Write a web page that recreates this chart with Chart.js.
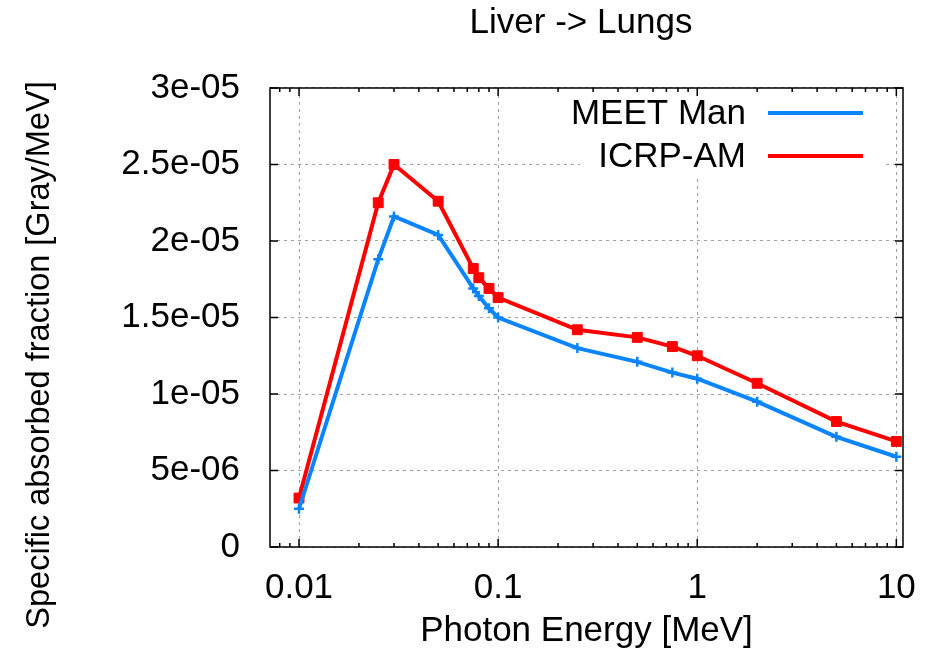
<!DOCTYPE html>
<html>
<head>
<meta charset="utf-8">
<script src="https://cdn.jsdelivr.net/npm/chart.js@4.4.0/dist/chart.umd.min.js"></script>
<style>
  html, body { margin: 0; padding: 0; background: #fff; }
  #wrap { width: 926px; height: 669px; }
</style>
</head>
<body>
<div id="wrap"><canvas id="safChart"></canvas></div>
<script>
// Photon energies [MeV] and SAF values [Gray/MeV]
const energies = [0.01, 0.025, 0.03, 0.05, 0.075, 0.08, 0.09, 0.1, 0.25, 0.5, 0.75, 1, 2, 5, 10];
const meetMan = [2.5e-6, 1.88e-5, 2.16e-5, 2.04e-5, 1.69e-5, 1.64e-5, 1.56e-5, 1.50e-5, 1.30e-5, 1.21e-5, 1.14e-5, 1.10e-5, 9.5e-6, 7.2e-6, 5.9e-6];
const icrpAm = [3.2e-6, 2.25e-5, 2.5e-5, 2.26e-5, 1.82e-5, 1.76e-5, 1.69e-5, 1.63e-5, 1.42e-5, 1.37e-5, 1.31e-5, 1.25e-5, 1.07e-5, 8.2e-6, 6.9e-6];

const xTickValues = [0.01, 0.1, 1, 10];
const xTickLabels = ["0.01", "0.1", "1", "10"];
const yTickLabels = ["0", "5e-06", "1e-05", "1.5e-05", "2e-05", "2.5e-05", "3e-05"];

const FONT = "'Liberation Sans', Arial, sans-serif";
const colors = { meet: "#0a84ff", icrp: "#ff0000", grid: "#a0a0a0" };

function toPoints(values) {
  return energies.map((e, i) => ({ x: e, y: values[i] }));
}

// frame, inward ticks, legend and titles drawn gnuplot-style
const gnuplotFrame = {
  id: "gnuplotFrame",
  beforeDatasetsDraw(chart) {
    const { ctx, chartArea } = chart;
    // legend box hides the grid behind it
    ctx.save();
    ctx.fillStyle = "#fff";
    ctx.fillRect(580, chartArea.top + 1, 305, 89);
    ctx.restore();
  },
  afterDraw(chart) {
    const { ctx, chartArea: a, scales } = chart;
    ctx.save();
    ctx.strokeStyle = "#000";
    ctx.lineWidth = 1.5;
    ctx.strokeRect(a.left, a.top, a.right - a.left, a.bottom - a.top);

    ctx.beginPath();
    // y major ticks, both sides
    scales.y.ticks.forEach((t) => {
      const py = scales.y.getPixelForValue(t.value);
      ctx.moveTo(a.left, py); ctx.lineTo(a.left + 8, py);
      ctx.moveTo(a.right, py); ctx.lineTo(a.right - 8, py);
    });
    // x major + minor ticks, top and bottom
    for (let p = -3; p <= 1; p++) {
      for (let k = 1; k <= 9; k++) {
        const v = k * Math.pow(10, p);
        if (v < scales.x.min || v > scales.x.max) continue;
        const px = scales.x.getPixelForValue(v);
        const len = k === 1 ? 8 : 4;
        ctx.moveTo(px, a.bottom); ctx.lineTo(px, a.bottom - len);
        ctx.moveTo(px, a.top); ctx.lineTo(px, a.top + len);
      }
    }
    ctx.stroke();

    // legend: text right-aligned, line sample to the right
    ctx.font = "35px " + FONT;
    ctx.textAlign = "right";
    ctx.textBaseline = "middle";
    chart.data.datasets.forEach((ds, i) => {
      const ly = 114 + i * 43;
      ctx.fillStyle = "#000";
      ctx.fillText(ds.label, 746, ly);
      ctx.strokeStyle = ds.borderColor;
      ctx.lineWidth = 4;
      ctx.beginPath();
      ctx.moveTo(768, ly - 1); ctx.lineTo(863, ly - 1);
      ctx.stroke();
    });

    // chart title
    ctx.fillStyle = "#000";
    ctx.textAlign = "center";
    ctx.fillText("Liver -> Lungs", 581, 23);

    // y axis title
    ctx.font = "32.5px " + FONT;
    ctx.translate(40, 355);
    ctx.rotate(-Math.PI / 2);
    ctx.fillText("Specific absorbed fraction [Gray/MeV]", 0, 0);
    ctx.restore();
  },
};

new Chart(document.getElementById("safChart"), {
  type: "line",
  data: {
    datasets: [
      {
        label: "MEET Man",
        data: toPoints(meetMan),
        borderColor: colors.meet,
        backgroundColor: colors.meet,
        borderWidth: 4,
        pointStyle: "cross",
        pointRadius: 5,
        pointBorderWidth: 2.5,
        tension: 0,
      },
      {
        label: "ICRP-AM",
        data: toPoints(icrpAm),
        borderColor: colors.icrp,
        backgroundColor: colors.icrp,
        borderWidth: 4,
        pointStyle: "rect",
        pointRadius: 7,
        pointBorderWidth: 1,
        tension: 0,
      },
    ],
  },
  options: {
    responsive: true,
    maintainAspectRatio: false,
    animation: false,
    layout: { padding: { top: 88, right: 23, left: 0, bottom: 0 } },
    plugins: {
      legend: { display: false },
      title: { display: false },
      tooltip: { enabled: false },
    },
    scales: {
      x: {
        type: "logarithmic",
        min: 0.00715,
        max: 10.8,
        afterBuildTicks: (scale) => {
          scale.ticks = xTickValues.map((v) => ({ value: v }));
        },
        afterFit: (scale) => {
          scale.height = 122;
          scale.paddingLeft = 0;
          scale.paddingRight = 0;
        },
        ticks: {
          color: "#000",
          font: { family: FONT, size: 35 },
          padding: 20,
          autoSkip: false,
          maxRotation: 0,
          callback: (value, index) => xTickLabels[index],
        },
        grid: {
          color: colors.grid,
          lineWidth: 1,
          drawTicks: false,
          dash: [3, 4],
        },
        border: { display: false, dash: [3, 4] },
        title: {
          display: true,
          text: "Photon Energy [MeV]",
          color: "#000",
          font: { family: FONT, size: 35 },
          padding: { top: 0, bottom: 17 },
        },
      },
      y: {
        min: 0,
        max: 3e-5,
        afterBuildTicks: (scale) => {
          scale.ticks = yTickLabels.map((_, i) => ({ value: i * 5e-6 }));
        },
        afterFit: (scale) => {
          scale.width = 270;
          scale.paddingTop = 0;
          scale.paddingBottom = 0;
        },
        ticks: {
          color: "#000",
          font: { family: FONT, size: 35 },
          padding: 30,
          callback: (value, index) => yTickLabels[index],
        },
        grid: {
          color: colors.grid,
          lineWidth: 1,
          drawTicks: false,
          dash: [3, 4],
        },
        border: { display: false, dash: [3, 4] },
      },
    },
  },
  plugins: [gnuplotFrame],
});
</script>
</body>
</html>
